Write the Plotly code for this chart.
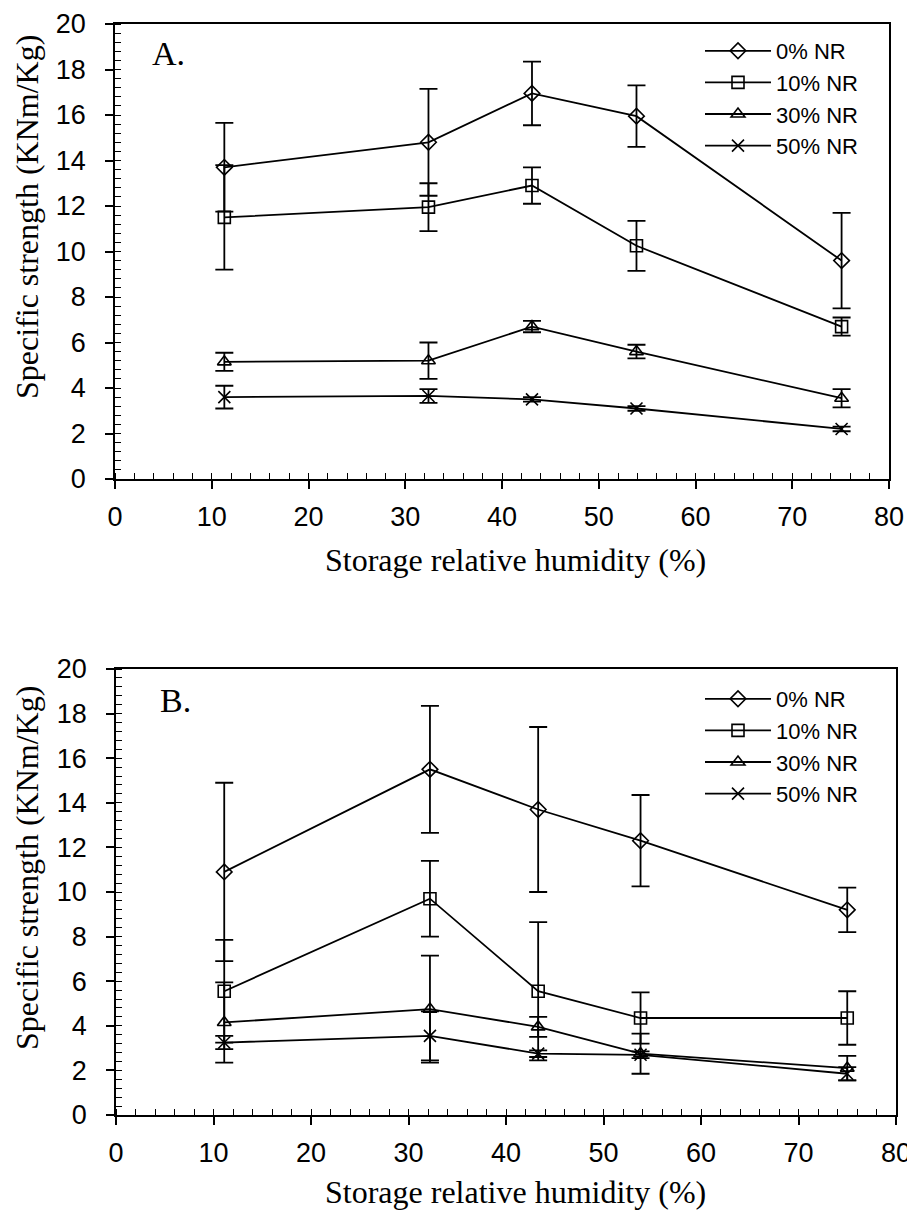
import plotly.graph_objects as go

# ---- data ----
series_names = ["0% NR", "10% NR", "30% NR", "50% NR"]
rh_a = [11.3, 32.4, 43.1, 53.9, 75.1]
rh_b = [11.1, 32.2, 43.3, 53.8, 75.0]

nr0_a = [13.7, 14.8, 16.95, 15.95, 9.6]
err0_a = [1.95, 2.35, 1.4, 1.35, 2.1]
nr10_a = [11.5, 11.95, 12.9, 10.25, 6.7]
err10_a = [2.3, 1.05, 0.8, 1.1, 0.4]
nr30_a = [5.15, 5.2, 6.7, 5.6, 3.55]
err30_a = [0.4, 0.8, 0.25, 0.3, 0.4]
nr50_a = [3.6, 3.65, 3.5, 3.1, 2.2]
err50_a = [0.5, 0.3, 0.1, 0.1, 0.1]

nr0_b = [10.9, 15.5, 13.7, 12.3, 9.2]
err0_b = [4.0, 2.85, 3.7, 2.05, 1.0]
nr10_b = [5.55, 9.7, 5.55, 4.35, 4.35]
err10_b = [2.3, 1.7, 3.1, 1.15, 1.2]
nr30_b = [4.15, 4.75, 3.95, 2.75, 2.1]
err30_b = [1.8, 2.4, 0.45, 0.9, 0.55]
nr50_b = [3.25, 3.55, 2.75, 2.7, 1.85]
err50_b = [0.3, 1.1, 0.15, 0.15, 0.3]

x_ticks = [0, 10, 20, 30, 40, 50, 60, 70, 80]
y_ticks = [0, 2, 4, 6, 8, 10, 12, 14, 16, 18, 20]

symbols = ["diamond-open", "square-open", "triangle-up-open", "x-thin-open"]

# page body has an 8px margin at top/left; size the figure to reach the window edges
OFF = 8
W, H = 915 - OFF, 1212 - OFF

fig = go.Figure()

panel_a = [(nr0_a, err0_a), (nr10_a, err10_a), (nr30_a, err30_a), (nr50_a, err50_a)]
panel_b = [(nr0_b, err0_b), (nr10_b, err10_b), (nr30_b, err30_b), (nr50_b, err50_b)]

for (vals, errs), name, sym in zip(panel_a, series_names, symbols):
    fig.add_trace(go.Scatter(
        x=rh_a, y=vals, name=name, mode="lines+markers",
        line=dict(color="black", width=1.8),
        marker=dict(symbol=sym, size=12, color="black", line=dict(color="black", width=1.6)),
        error_y=dict(type="data", array=errs, visible=True, color="black", thickness=1.8, width=9),
        xaxis="x", yaxis="y", legend="legend",
    ))

for (vals, errs), name, sym in zip(panel_b, series_names, symbols):
    fig.add_trace(go.Scatter(
        x=rh_b, y=vals, name=name, mode="lines+markers",
        line=dict(color="black", width=1.8),
        marker=dict(symbol=sym, size=12, color="black", line=dict(color="black", width=1.6)),
        error_y=dict(type="data", array=errs, visible=True, color="black", thickness=1.8, width=9),
        xaxis="x2", yaxis="y2", legend="legend2",
    ))

def px_x(p):
    return (p - OFF) / W

def px_y(p):
    return 1 - (p - OFF) / H

tick_font = dict(family="Liberation Sans, Arial", size=27, color="black")

def xaxis_cfg(domain, anchor):
    return dict(
        domain=domain, anchor=anchor, range=[0, 80], tickvals=x_ticks,
        ticks="outside", ticklen=8, tickwidth=1.5, tickcolor="black",
        minor=dict(dtick=2, ticks="inside", ticklen=6, tickwidth=1.2, tickcolor="black"),
        showline=True, linecolor="black", linewidth=1.5, mirror=True,
        showgrid=False, zeroline=False, tickfont=tick_font, ticklabelstandoff=5,
        automargin=False,
    )

def yaxis_cfg(domain, anchor):
    return dict(
        domain=domain, anchor=anchor, range=[0, 20], tickvals=y_ticks,
        ticks="outside", ticklen=8, tickwidth=1.5, tickcolor="black",
        minor=dict(dtick=0.4, ticks="inside", ticklen=6, tickwidth=1.2, tickcolor="black"),
        showline=True, linecolor="black", linewidth=1.5, mirror=True,
        showgrid=False, zeroline=False, tickfont=tick_font, ticklabelstandoff=14,
        automargin=False,
    )

legend_font = dict(family="Liberation Sans, Arial", size=22, color="black")

fig.update_layout(
    width=W, height=H,
    margin=dict(l=0, r=0, t=0, b=0, autoexpand=False),
    paper_bgcolor="white", plot_bgcolor="white",
    xaxis=xaxis_cfg([px_x(115), px_x(889)], "y"),
    yaxis=yaxis_cfg([px_y(479), px_y(24)], "x"),
    xaxis2=xaxis_cfg([px_x(116), px_x(896)], "y2"),
    yaxis2=yaxis_cfg([px_y(1115), px_y(669)], "x2"),
    legend=dict(x=px_x(700), y=px_y(30), xanchor="left", yanchor="top",
                font=legend_font, bgcolor="rgba(0,0,0,0)", itemwidth=66, tracegroupgap=0),
    legend2=dict(x=px_x(700), y=px_y(678), xanchor="left", yanchor="top",
                 font=legend_font, bgcolor="rgba(0,0,0,0)", itemwidth=66, tracegroupgap=0),
    showlegend=True,
)

title_font = dict(family="Liberation Serif, Times New Roman", size=32, color="black")

annotations = [
    dict(text="Specific strength (KNm/Kg)", x=px_x(27), y=px_y(217), xref="paper", yref="paper",
         textangle=-90, showarrow=False, font=title_font, xanchor="center", yanchor="middle"),
    dict(text="Specific strength (KNm/Kg)", x=px_x(27), y=px_y(868), xref="paper", yref="paper",
         textangle=-90, showarrow=False, font=title_font, xanchor="center", yanchor="middle"),
    dict(text="Storage relative humidity (%)", x=px_x(515), y=px_y(560), xref="paper", yref="paper",
         showarrow=False, font=title_font, xanchor="center", yanchor="middle"),
    dict(text="Storage relative humidity (%)", x=px_x(515), y=px_y(1192), xref="paper", yref="paper",
         showarrow=False, font=title_font, xanchor="center", yanchor="middle"),
    dict(text="A.", x=3.6, y=18.7, xref="x", yref="y", showarrow=False,
         font=dict(family="Liberation Serif, Times New Roman", size=34, color="black"),
         xanchor="left", yanchor="middle"),
    dict(text="B.", x=4.3, y=18.6, xref="x2", yref="y2", showarrow=False,
         font=dict(family="Liberation Serif, Times New Roman", size=34, color="black"),
         xanchor="left", yanchor="middle"),
]
fig.update_layout(annotations=annotations)

fig.write_html("out.html")
